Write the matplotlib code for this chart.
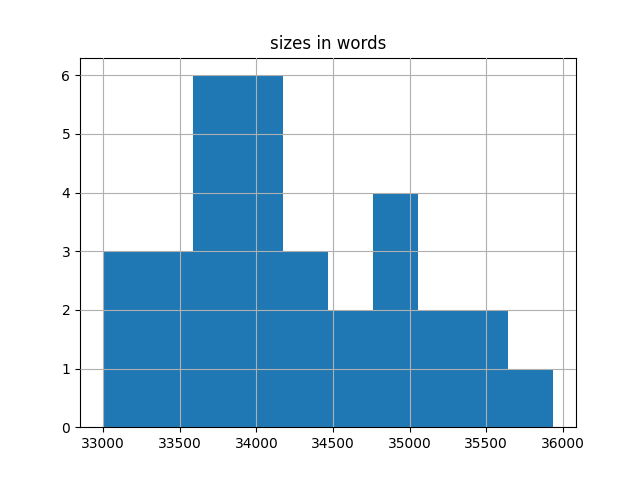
import matplotlib
matplotlib.use("Agg")
import matplotlib.pyplot as plt
import numpy as np

bin_min = 32995
bin_max = 35940
counts = [3, 3, 6, 6, 3, 2, 4, 2, 2, 1]
title = "sizes in words"

edges = np.linspace(bin_min, bin_max, len(counts) + 1)

fig, ax = plt.subplots(figsize=(6.4, 4.8), dpi=100)
ax.hist(edges[:-1], bins=edges, weights=counts, color="#1f77b4")
ax.grid(True)
ax.set_axisbelow(False)
ax.set_title(title)
fig.savefig("out.png")
